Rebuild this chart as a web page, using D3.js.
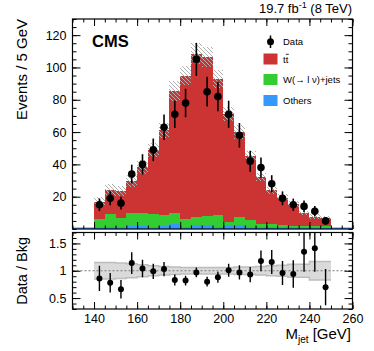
<!DOCTYPE html>
<html>
<head>
<meta charset="utf-8">
<script src="https://cdn.jsdelivr.net/npm/d3@7"></script>
<style>
  body { margin: 0; background: #fff; }
  svg text { font-family: "Liberation Sans", Arial, sans-serif; fill: #000; }
</style>
</head>
<body>
<div id="chart_holder"></div>
<script>
// bin lower edges, 5 GeV wide
const binLo = [140,145,150,155,160,165,170,175,180,185,190,195,200,205,210,215,220,225,230,235,240,245]
const binWidth = 5

// stacked backgrounds (events / bin)
const others = [1.1,1.5,1.1,2.0,2.0,1.5,2.0,3.2,1.5,2.3,2.3,1.1,2.6,2.6,1.5,1.2,1.5,1.2,1.0,1.0,1.0,1.0]
const wjets  = [5.2,7.9,6.0,7.8,8.2,7.7,6.8,7.0,4.4,5.0,5.7,7.5,1.9,4.7,4.2,2.0,1.7,1.0,0.6,0.6,1.0,1.0]
const ttbar  = [10.7,14.6,16.5,19.8,28.1,39.8,52.2,75.3,89.1,101.2,98.5,84.4,66.5,52.7,39.3,28.8,20.8,17.3,13.9,8.4,5.7,4.7]
// relative uncertainty on the total background
const bkgUnc = [0.15,0.15,0.14,0.13,0.11,0.09,0.08,0.07,0.06,0.06,0.06,0.06,0.06,0.07,0.07,0.08,0.09,0.10,0.12,0.12,0.17,0.17]

// data
const dataVal = [15,19,16,34,40,49,63,71,78,105,85,82,71,58,42,38,28,19,15,14,11,5]
const dataErr = [3.9,4.3,4.0,5.8,6.3,7.0,7.9,8.4,8.8,10.2,9.2,9.1,8.4,7.6,6.5,6.2,5.3,4.3,3.8,3.7,3.3,2.2]

// data / bkg
const ratioVal = [0.86,0.78,0.66,1.14,1.04,0.99,1.03,0.83,0.82,0.97,0.80,0.88,1.01,0.97,0.93,1.18,1.16,0.96,0.94,1.35,1.41,0.70]
const ratioErr = [0.23,0.18,0.17,0.20,0.16,0.14,0.13,0.10,0.09,0.09,0.09,0.10,0.12,0.13,0.14,0.19,0.22,0.22,0.25,0.37,0.43,0.33]

// axis ticks
const xTicks = [140,160,180,200,220,240,260]
const yTicks = [20,40,60,80,100,120]
const rTicks = [0.5,1,1.5]

const W = 374, H = 351
const colors = {others: "#3399ff", wjets: "#33cc33", ttbar: "#cc3333"}

let svg = d3.select("#chart_holder").append("svg")
    .attr("width", W).attr("height", H)

let x = d3.scaleLinear().domain([130, 260]).range([72.5, 352.5])
let y = d3.scaleLinear().domain([0, 130]).range([229, 19])
let yr = d3.scaleLinear().domain([0.3, 1.7]).range([309, 232.5])

let rows = binLo.map((lo, i) => ({lo: lo, others: others[i], wjets: wjets[i], ttbar: ttbar[i]}))
let keys = ["others", "wjets", "ttbar"]
let stacked = d3.stack().keys(keys)(rows)

let defs = svg.append("defs")
defs.append("pattern")
    .attr("id", "hatch")
    .attr("patternUnits", "userSpaceOnUse")
    .attr("width", 4).attr("height", 4)
  .append("path")
    .attr("d", "M0,0 l4,4 M-1,3 l2,2 M3,-1 l2,2")
    .attr("stroke", "#b0b0b0")
    .attr("stroke-width", 1)
defs.append("clipPath").attr("id", "clipRatio")
  .append("rect")
    .attr("x", x.range()[0]).attr("y", yr.range()[1])
    .attr("width", x.range()[1] - x.range()[0])
    .attr("height", yr.range()[0] - yr.range()[1])

// ---------------- main panel ----------------
let main = svg.append("g")

stacked.forEach(layer => {
    main.append("g").selectAll("rect")
        .data(layer)
        .join("rect")
            .attr("x", d => x(d.data.lo))
            .attr("width", d => x(d.data.lo + binWidth) - x(d.data.lo))
            .attr("y", d => y(d[1]))
            .attr("height", d => y(d[0]) - y(d[1]))
            .attr("fill", colors[layer.key])
            .attr("shape-rendering", "crispEdges")
})

let totals = stacked[stacked.length - 1].map(d => d[1])
main.append("g").selectAll("rect")
    .data(binLo)
    .join("rect")
        .attr("x", d => x(d))
        .attr("width", d => x(d + binWidth) - x(d))
        .attr("y", (d, i) => y(totals[i] * (1 + bkgUnc[i])))
        .attr("height", (d, i) => y(totals[i] * (1 - bkgUnc[i])) - y(totals[i] * (1 + bkgUnc[i])))
        .attr("fill", "url(#hatch)")
        .attr("shape-rendering", "crispEdges")

// thin blue baseline of the "Others" histogram
main.append("line")
    .attr("x1", x.range()[0]).attr("x2", x.range()[1])
    .attr("y1", y(0) - 0.8).attr("y2", y(0) - 0.8)
    .attr("stroke", colors.others).attr("stroke-width", 1.6)

main.append("g").selectAll("line")
    .data(binLo)
    .join("line")
        .attr("x1", d => x(d + binWidth / 2)).attr("x2", d => x(d + binWidth / 2))
        .attr("y1", (d, i) => y(dataVal[i] - dataErr[i]))
        .attr("y2", (d, i) => y(dataVal[i] + dataErr[i]))
        .attr("stroke", "#000").attr("stroke-width", 1.6)
main.append("g").selectAll("circle")
    .data(binLo)
    .join("circle")
        .attr("cx", d => x(d + binWidth / 2))
        .attr("cy", (d, i) => y(dataVal[i]))
        .attr("r", 3.8)
        .attr("fill", "#000")

// ---------------- ratio panel ----------------
let ratio = svg.append("g")

ratio.append("g").selectAll("rect")
    .data(binLo)
    .join("rect")
        .attr("x", d => x(d))
        .attr("width", d => x(d + binWidth) - x(d))
        .attr("y", (d, i) => yr(1 + bkgUnc[i]))
        .attr("height", (d, i) => yr(1 - bkgUnc[i]) - yr(1 + bkgUnc[i]))
        .attr("fill", "#dadada")
        .attr("shape-rendering", "crispEdges")

let bandEdge = (sign) => d3.line()
    .x(d => x(d[0])).y(d => yr(d[1]))
    (binLo.flatMap((lo, i) => [[lo, 1 + sign * bkgUnc[i]], [lo + binWidth, 1 + sign * bkgUnc[i]]]))
ratio.append("path").attr("d", bandEdge(1)).attr("fill", "none").attr("stroke", "#bdbdbd").attr("stroke-width", 1.5)
ratio.append("path").attr("d", bandEdge(-1)).attr("fill", "none").attr("stroke", "#bdbdbd").attr("stroke-width", 1.5)

ratio.append("line")
    .attr("x1", x.range()[0]).attr("x2", x.range()[1])
    .attr("y1", yr(1)).attr("y2", yr(1))
    .attr("stroke", "#777").attr("stroke-width", 1.1)
    .attr("stroke-dasharray", "2,2")

ratio.append("g").attr("clip-path", "url(#clipRatio)")
    .selectAll("line")
    .data(binLo)
    .join("line")
        .attr("x1", d => x(d + binWidth / 2)).attr("x2", d => x(d + binWidth / 2))
        .attr("y1", (d, i) => yr(ratioVal[i] - ratioErr[i]))
        .attr("y2", (d, i) => yr(ratioVal[i] + ratioErr[i]))
        .attr("stroke", "#000").attr("stroke-width", 1.4)
ratio.append("g").selectAll("circle")
    .data(binLo)
    .join("circle")
        .attr("cx", d => x(d + binWidth / 2))
        .attr("cy", (d, i) => yr(ratioVal[i]))
        .attr("r", 3)
        .attr("fill", "#000")

// ---------------- frames and ticks ----------------
function frame(g, yScale, yMajor, yMinor, xLen, labelsX, yFmt){
    let [x0, x1] = x.range()
    let [yb, yt] = yScale.range()
    let xMinor = d3.range(130, 261, 5)

    let ax = g.append("g").attr("class", "axes")
    // x ticks, bottom and top
    ax.append("g").attr("transform", `translate(0,${yb})`)
        .call(d3.axisBottom(x).tickValues(xMinor).tickSize(-xLen[1]).tickFormat(""))
    ax.append("g").attr("transform", `translate(0,${yb})`)
        .call(d3.axisBottom(x).tickValues(xTicks).tickSize(-xLen[0]).tickPadding(5)
            .tickFormat(labelsX ? d3.format("d") : ""))
    ax.append("g").attr("transform", `translate(0,${yt})`)
        .call(d3.axisTop(x).tickValues(xMinor).tickSize(-xLen[1]).tickFormat(""))
    ax.append("g").attr("transform", `translate(0,${yt})`)
        .call(d3.axisTop(x).tickValues(xTicks).tickSize(-xLen[0]).tickFormat(""))
    // y ticks, left and right
    ax.append("g").attr("transform", `translate(${x0},0)`)
        .call(d3.axisLeft(yScale).tickValues(yMinor).tickSize(-4).tickFormat(""))
    ax.append("g").attr("transform", `translate(${x0},0)`)
        .call(d3.axisLeft(yScale).tickValues(yMajor).tickSize(-8).tickPadding(6).tickFormat(yFmt))
    ax.append("g").attr("transform", `translate(${x1},0)`)
        .call(d3.axisRight(yScale).tickValues(yMinor).tickSize(-4).tickFormat(""))
    ax.append("g").attr("transform", `translate(${x1},0)`)
        .call(d3.axisRight(yScale).tickValues(yMajor).tickSize(-8).tickFormat(""))

    ax.selectAll(".domain").remove()
    ax.selectAll(".tick line").attr("stroke", "#000").attr("stroke-width", 1)
    ax.selectAll(".tick text")
        .attr("font-size", 12.5)
        .attr("font-family", '"Liberation Sans", Arial, sans-serif')
        .attr("fill", "#000")

    g.append("rect")
        .attr("x", x0).attr("y", yt)
        .attr("width", x1 - x0).attr("height", yb - yt)
        .attr("fill", "none").attr("stroke", "#000").attr("stroke-width", 1.2)
}

let mainMinor = d3.range(0, 131, 5)
frame(main, y, yTicks, mainMinor, [7, 3.5], false, d3.format("d"))

let ratioMinor = d3.range(0.3, 1.71, 0.1).map(v => +v.toFixed(1))
frame(ratio, yr, rTicks, ratioMinor, [7, 3.5], true, d => d === 1 ? "1" : d3.format(".1f")(d))

// ---------------- texts ----------------
svg.append("text")
    .attr("transform", `translate(27,19) rotate(-90)`)
    .attr("text-anchor", "end")
    .attr("font-size", 15)
    .text("Events / 5 GeV")

svg.append("text")
    .attr("transform", `translate(27,237) rotate(-90)`)
    .attr("text-anchor", "end")
    .attr("font-size", 14.5)
    .text("Data / Bkg")

let xt = svg.append("text")
    .attr("x", 351).attr("y", 339)
    .attr("text-anchor", "end")
    .attr("font-size", 15)
xt.append("tspan").text("M")
xt.append("tspan").attr("font-size", 10).attr("dy", 4).text("jet")
xt.append("tspan").attr("dy", -4).text(" [GeV]")

let lumi = svg.append("text")
    .attr("x", 352).attr("y", 13)
    .attr("text-anchor", "end")
    .attr("font-size", 13)
lumi.append("tspan").text("19.7 fb")
lumi.append("tspan").attr("font-size", 9).attr("dy", -5).text("-1")
lumi.append("tspan").attr("dy", 5).text(" (8 TeV)")

svg.append("text")
    .attr("x", 92).attr("y", 47)
    .attr("font-size", 16.5)
    .attr("font-weight", "bold")
    .text("CMS")

// ---------------- legend ----------------
let legend = svg.append("g").attr("font-size", 9.5)
legend.append("line")
    .attr("x1", 270.5).attr("x2", 270.5).attr("y1", 35.5).attr("y2", 48)
    .attr("stroke", "#000").attr("stroke-width", 1.5)
legend.append("circle").attr("cx", 270.5).attr("cy", 41.7).attr("r", 3.5).attr("fill", "#000")
legend.append("text").attr("x", 283).attr("y", 45.3).text("Data")

let entries = [
    {key: "ttbar", y: 53.5},
    {key: "wjets", y: 74},
    {key: "others", y: 95}
]
legend.selectAll("rect.box")
    .data(entries)
    .join("rect")
        .attr("class", "box")
        .attr("x", 263.5).attr("y", d => d.y)
        .attr("width", 14).attr("height", 11)
        .attr("fill", d => colors[d.key])

legend.append("text").attr("x", 283).attr("y", 62.5).text("tt")
// bar over the second t
legend.append("line")
    .attr("x1", 285.8).attr("x2", 288.8).attr("y1", 54.3).attr("y2", 54.3)
    .attr("stroke", "#000").attr("stroke-width", 0.8)
legend.append("text").attr("x", 283).attr("y", 83).text("W(\u2192 l \u03bd)+jets")
legend.append("text").attr("x", 283).attr("y", 104).text("Others")
</script>
</body>
</html>
